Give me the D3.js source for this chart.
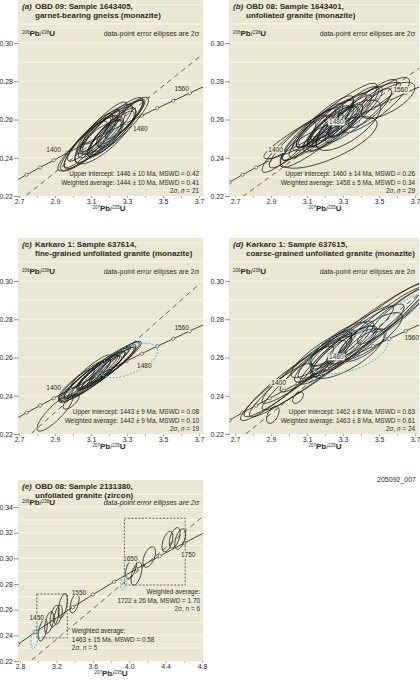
<!DOCTYPE html>
<html>
<head>
<meta charset="utf-8">
<script src="https://cdn.jsdelivr.net/npm/d3@7"></script>
<style>
  body { margin: 0; background: #fff; }
  text { font-family: "Liberation Sans", Arial, sans-serif; fill: #2a2a2a; }
</style>
</head>
<body>
<svg id="fig" width="420" height="680"></svg>
<script>
// ---- concordia reference points (ratio pairs read for each age) ----
const concAge20 = [1320, 1340, 1360, 1380, 1400, 1420, 1440, 1460, 1480, 1500, 1520, 1540, 1560, 1580, 1600];
const concX20 = [2.669, 2.742, 2.817, 2.893, 2.970, 3.049, 3.129, 3.212, 3.296, 3.381, 3.468, 3.557, 3.648, 3.740, 3.834];
const concY20 = [0.2272, 0.2311, 0.2349, 0.2387, 0.2426, 0.2464, 0.2503, 0.2542, 0.2581, 0.2620, 0.2659, 0.2698, 0.2738, 0.2778, 0.2817];
const concAge50 = [1300, 1350, 1400, 1450, 1500, 1550, 1600, 1650, 1700, 1750, 1800, 1850];
const concX50 = [2.598, 2.779, 2.970, 3.170, 3.381, 3.602, 3.834, 4.078, 4.335, 4.604, 4.887, 5.184];
const concY50 = [0.2234, 0.2330, 0.2426, 0.2522, 0.2620, 0.2718, 0.2817, 0.2917, 0.3017, 0.3119, 0.3221, 0.3324];
const ageLabAD = [1400, 1480, 1560];
const ageLabE = [1450, 1550, 1650, 1750];

// ---- axis ticks ----
const xTicksAD = [2.7, 2.9, 3.1, 3.3, 3.5, 3.7];
const xMinorAD = [2.8, 3.0, 3.2, 3.4, 3.6];
const yTicksAD = [0.22, 0.24, 0.26, 0.28, 0.30];
const gridAD = [0.23, 0.24, 0.25, 0.26, 0.27, 0.28, 0.29, 0.30, 0.31, 0.32];
const xTicksE = [2.8, 3.2, 3.6, 4.0, 4.4, 4.8];
const xMinorE = [3.0, 3.4, 3.8, 4.2, 4.6];
const yTicksE = [0.22, 0.24, 0.26, 0.28, 0.30, 0.32, 0.34];
const gridE = [0.23, 0.24, 0.25, 0.26, 0.27, 0.28, 0.29, 0.30, 0.31, 0.32, 0.33, 0.34, 0.35];

// ---- error ellipses: [207Pb/235U, 206Pb/238U, 2s x, 2s y, rho] ----
const ellA = [
  [3.155, 0.2515, 0.24, 0.0185, 0.92], [3.13, 0.2505, 0.20, 0.0175, 0.90], [3.20, 0.2545, 0.19, 0.0170, 0.90],
  [3.10, 0.2482, 0.15, 0.0140, 0.88], [3.25, 0.2562, 0.17, 0.0155, 0.90], [3.17, 0.2532, 0.12, 0.0115, 0.86],
  [3.14, 0.2517, 0.10, 0.0100, 0.85], [3.19, 0.2522, 0.09, 0.0090, 0.80], [3.15, 0.2542, 0.11, 0.0110, 0.88],
  [3.22, 0.2537, 0.13, 0.0122, 0.86], [3.09, 0.2497, 0.12, 0.0115, 0.88], [3.27, 0.2587, 0.12, 0.0115, 0.90],
  [3.16, 0.2557, 0.14, 0.0135, 0.90], [3.20, 0.2527, 0.07, 0.0070, 0.75], [3.12, 0.2487, 0.09, 0.0088, 0.82],
  [3.18, 0.2502, 0.10, 0.0097, 0.80], [3.24, 0.2547, 0.10, 0.0097, 0.84], [3.07, 0.2470, 0.12, 0.0122, 0.88],
  [3.29, 0.2602, 0.11, 0.0104, 0.90], [3.14, 0.2552, 0.08, 0.0080, 0.82], [3.18, 0.2517, 0.17, 0.0150, 0.80]
];
const avgA = [[3.20, 0.2515, 0.05, 0.0045, 0.6]];

const ellB = [
  [3.24, 0.2595, 0.38, 0.0200, 0.95], [3.22, 0.2570, 0.27, 0.0220, 0.92], [3.22, 0.2480, 0.27, 0.0135, 0.72],
  [3.55, 0.2700, 0.15, 0.0095, 0.70], [3.48, 0.2675, 0.19, 0.0145, 0.86], [3.40, 0.2645, 0.20, 0.0165, 0.90],
  [3.30, 0.2605, 0.20, 0.0168, 0.90], [3.18, 0.2550, 0.18, 0.0150, 0.90], [3.12, 0.2525, 0.16, 0.0138, 0.88],
  [3.22, 0.2565, 0.12, 0.0108, 0.86], [3.26, 0.2580, 0.10, 0.0090, 0.84], [3.20, 0.2545, 0.10, 0.0090, 0.84],
  [3.28, 0.2565, 0.13, 0.0114, 0.86], [3.15, 0.2555, 0.11, 0.0102, 0.88], [3.24, 0.2600, 0.12, 0.0108, 0.86],
  [3.34, 0.2620, 0.12, 0.0108, 0.88], [3.10, 0.2505, 0.14, 0.0120, 0.88], [3.05, 0.2485, 0.16, 0.0138, 0.90],
  [3.21, 0.2530, 0.08, 0.0075, 0.80], [3.30, 0.2585, 0.09, 0.0082, 0.80], [3.17, 0.2570, 0.13, 0.0114, 0.88],
  [3.37, 0.2640, 0.15, 0.0132, 0.88], [3.23, 0.2550, 0.15, 0.0120, 0.82], [3.14, 0.2535, 0.09, 0.0082, 0.84],
  [3.27, 0.2600, 0.16, 0.0138, 0.90], [3.00, 0.2455, 0.15, 0.0132, 0.90], [3.45, 0.2660, 0.12, 0.0102, 0.82],
  [3.19, 0.2580, 0.17, 0.0144, 0.88], [3.33, 0.2570, 0.18, 0.0132, 0.72]
];
const avgB = [[3.30, 0.2570, 0.10, 0.0070, 0.6]];

const ellC = [
  [3.15, 0.2525, 0.23, 0.0160, 0.95], [3.12, 0.2510, 0.19, 0.0142, 0.95], [3.18, 0.2540, 0.19, 0.0142, 0.95],
  [3.10, 0.2500, 0.15, 0.0117, 0.94], [3.20, 0.2552, 0.15, 0.0115, 0.94], [3.14, 0.2520, 0.12, 0.0092, 0.92],
  [3.16, 0.2532, 0.13, 0.0099, 0.92], [3.08, 0.2490, 0.13, 0.0101, 0.93], [3.22, 0.2562, 0.12, 0.0092, 0.93],
  [3.12, 0.2515, 0.09, 0.0071, 0.90], [3.18, 0.2537, 0.09, 0.0071, 0.90], [3.05, 0.2478, 0.13, 0.0105, 0.93],
  [3.25, 0.2578, 0.10, 0.0078, 0.92], [3.13, 0.2507, 0.16, 0.0126, 0.94], [3.17, 0.2547, 0.15, 0.0112, 0.94],
  [3.02, 0.2462, 0.10, 0.0080, 0.90], [2.90, 0.2310, 0.10, 0.0095, 0.85], [2.99, 0.2370, 0.045, 0.0040, 0.70],
  [3.10, 0.2528, 0.11, 0.0086, 0.92]
];
const avgC = [[3.31, 0.2585, 0.16, 0.0090, 0.55]];

const ellD = [
  [3.30, 0.2655, 0.45, 0.0330, 0.97], [3.42, 0.2730, 0.36, 0.0270, 0.96], [3.18, 0.2580, 0.40, 0.0290, 0.96],
  [3.52, 0.2790, 0.24, 0.0180, 0.94], [3.58, 0.2820, 0.20, 0.0150, 0.93], [3.25, 0.2630, 0.22, 0.0160, 0.90],
  [3.30, 0.2640, 0.18, 0.0125, 0.86], [3.20, 0.2600, 0.15, 0.0110, 0.86], [3.35, 0.2665, 0.14, 0.0100, 0.82],
  [3.28, 0.2670, 0.16, 0.0115, 0.82], [3.15, 0.2570, 0.20, 0.0150, 0.92], [3.10, 0.2545, 0.25, 0.0185, 0.94],
  [3.00, 0.2475, 0.25, 0.0185, 0.94], [3.45, 0.2710, 0.18, 0.0125, 0.82], [3.22, 0.2615, 0.10, 0.0075, 0.75],
  [3.33, 0.2620, 0.20, 0.0130, 0.75], [2.91, 0.2300, 0.035, 0.0045, 0.50], [3.05, 0.2390, 0.03, 0.0030, 0.50],
  [2.93, 0.2420, 0.20, 0.0150, 0.93], [3.38, 0.2690, 0.26, 0.0190, 0.92], [3.62, 0.2850, 0.16, 0.0120, 0.92],
  [3.24, 0.2650, 0.13, 0.0095, 0.82], [3.18, 0.2615, 0.17, 0.0120, 0.86], [3.42, 0.2665, 0.12, 0.0085, 0.76]
];
const avgD = [[3.33, 0.2630, 0.22, 0.0115, 0.45], [3.52, 0.2770, 0.24, 0.0170, 0.95]];

const ellE = [
  [3.05, 0.2440, 0.05, 0.0085, 0.5], [3.12, 0.2500, 0.05, 0.0085, 0.5], [3.18, 0.2550, 0.05, 0.0085, 0.5],
  [3.27, 0.2630, 0.05, 0.0095, 0.5], [3.22, 0.2560, 0.045, 0.0075, 0.5], [3.40, 0.2650, 0.05, 0.0075, 0.5],
  [4.02, 0.2920, 0.06, 0.0080, 0.5], [4.08, 0.2880, 0.06, 0.0090, 0.5], [4.22, 0.3010, 0.07, 0.0080, 0.5],
  [4.42, 0.3130, 0.06, 0.0080, 0.5], [4.50, 0.3160, 0.06, 0.0080, 0.5], [4.56, 0.3150, 0.06, 0.0080, 0.5]
];
const avgE = [[2.96, 0.2380, 0.04, 0.0085, 0.4], [3.94, 0.2820, 0.035, 0.0065, 0.4]];
// dashed boxes round the two age groups: [x0, x1, y0, y1]
const boxE = [[2.985, 3.32, 0.238, 0.2722], [3.948, 4.615, 0.2792, 0.3312]];

// ---- dashed reference lines (end points) ----
const dashA = [[2.743, 0.2205], [3.715, 0.2937]];
const dashB = [[2.743, 0.2197], [3.722, 0.2868]];
const dashC = [[2.770, 0.2204], [3.706, 0.2988]];
const dashD = [[2.760, 0.2200], [3.720, 0.2930]];
const dashE = [[2.930, 0.2208], [4.850, 0.3350]];

// ---- texts ----
const titleA = ["OBD 09: Sample 1643405,", "garnet-bearing gneiss (monazite)"];
const titleB = ["OBD 08: Sample 1643401,", "unfoliated granite (monazite)"];
const titleC = ["Karkaro 1: Sample 637614,", "fine-grained unfoliated granite (monazite)"];
const titleD = ["Karkaro 1: Sample 637615,", "coarse-grained unfoliated granite (monazite)"];
const titleE = ["OBD 08: Sample 2131380,", "unfoliated granite (zircon)"];
const statsA = ["Upper intercept: 1446 ± 10 Ma, MSWD = 0.42", "Weighted average: 1444 ± 10 Ma, MSWD = 0.41", "2σ, n = 21"];
const statsB = ["Upper intercept: 1460 ± 14 Ma, MSWD = 0.26", "Weighted average: 1458 ± 5 Ma, MSWD = 0.34", "2σ, n = 29"];
const statsC = ["Upper intercept: 1443 ± 9 Ma, MSWD = 0.08", "Weighted average: 1442 ± 9 Ma, MSWD = 0.10", "2σ, n = 19"];
const statsD = ["Upper intercept: 1462 ± 8 Ma, MSWD = 0.63", "Weighted average: 1463 ± 8 Ma, MSWD = 0.61", "2σ, n = 24"];
const statsE1 = ["Weighted average:", "1463 ± 15 Ma, MSWD = 0.58", "2σ, n = 5"];
const statsE2 = ["Weighted average:", "1722 ± 26 Ma, MSWD = 1.70", "2σ, n = 6"];

const BEIGE = "#eae8d3";
const svg = d3.select("#fig");

// layout of each panel (pixels)
const panels = [
  { key: "a", bx: [18, 203], by: [0, 196], xr: [19, 199], yr: [196, 43], xd: [2.7, 3.7], yd: [0.22, 0.30],
    title: titleA, ell: ellA, avg: avgA, dash: dashA, stats: statsA, xt: xTicksAD, xm: xMinorAD, yt: yTicksAD, grid: gridAD,
    cAge: concAge20, cX: concX20, cY: concY20, labs: ageLabAD, off: [[-14, -3], [14, 6], [-8, -4]] },
  { key: "b", bx: [229, 419], by: [0, 196], xr: [235, 415], yr: [196, 43], xd: [2.7, 3.7], yd: [0.22, 0.30],
    title: titleB, ell: ellB, avg: avgB, dash: dashB, stats: statsB, xt: xTicksAD, xm: xMinorAD, yt: yTicksAD, grid: gridAD,
    cAge: concAge20, cX: concX20, cY: concY20, labs: ageLabAD, off: [[-8, -3], [-6, -1], [-5, -3]], boxed: [1] },
  { key: "c", bx: [18, 203], by: [238, 434], xr: [19, 199], yr: [434, 281], xd: [2.7, 3.7], yd: [0.22, 0.30],
    title: titleC, ell: ellC, avg: avgC, dash: dashC, stats: statsC, xt: xTicksAD, xm: xMinorAD, yt: yTicksAD, grid: gridAD,
    cAge: concAge20, cX: concX20, cY: concY20, labs: ageLabAD, off: [[-14, -3], [18, 5], [-8, -3]] },
  { key: "d", bx: [229, 419], by: [238, 434], xr: [235, 415], yr: [434, 281], xd: [2.7, 3.7], yd: [0.22, 0.30],
    title: titleD, ell: ellD, avg: avgD, dash: dashD, stats: statsD, xt: xTicksAD, xm: xMinorAD, yt: yTicksAD, grid: gridAD,
    cAge: concAge20, cX: concX20, cY: concY20, labs: ageLabAD, off: [[-5, -8], [-6, -4], [6, 7]], boxed: [1] },
  { key: "e", bx: [18, 203], by: [480, 661], xr: [20, 202], yr: [661, 507], xd: [2.8, 4.8], yd: [0.22, 0.34],
    title: titleE, ell: ellE, avg: avgE, dash: dashE, stats: null, xt: xTicksE, xm: xMinorE, yt: yTicksE, grid: gridE,
    cAge: concAge50, cX: concX50, cY: concY50, labs: ageLabE, off: [[-17, -2], [-14, -2], [-6, -10], [4, 12]], italicNote: true }
];

function ellipseGeom(e, x, y) {
  const [cx, cy, sx, sy, rho] = e;
  const px = x(cx + sx) - x(cx);
  const py = y(cy) - y(cy + sy);
  // screen y runs downwards, so correlation flips sign
  const a = px * px, d = py * py, b = -rho * px * py;
  const m = (a + d) / 2, r = Math.sqrt(((a - d) / 2) ** 2 + b * b);
  return {
    cx: x(cx), cy: y(cy),
    rx: Math.sqrt(m + r), ry: Math.sqrt(Math.max(m - r, 0.05)),
    ang: 0.5 * Math.atan2(2 * b, a - d) * 180 / Math.PI
  };
}

function isoLabel(g, x, y, m1, e1, m2, e2, anchor) {
  const t = g.append("text").attr("x", x).attr("y", y).attr("text-anchor", anchor || "start");
  t.append("tspan").attr("font-size", 4.5).attr("dy", -2.5).text(m1);
  t.append("tspan").attr("font-size", 8).attr("font-weight", "bold").attr("dy", 2.5).text(e1);
  t.append("tspan").attr("font-size", 7).text("/");
  t.append("tspan").attr("font-size", 4.5).attr("dy", -2.5).text(m2);
  t.append("tspan").attr("font-size", 8).attr("font-weight", "bold").attr("dy", 2.5).text(e2);
  return t;
}

function statLine(t, s) {
  const m = s.match(/^(2σ, )n( = \d+)$/);
  if (m) {
    t.append("tspan").text(m[1]);
    t.append("tspan").attr("font-style", "italic").text("n");
    t.append("tspan").text(m[2]);
  } else t.text(s);
}

function statBlock(g, lines, x, y, anchor) {
  lines.forEach((s, i) => {
    const t = g.append("text").attr("x", x).attr("y", y + i * 8.6)
      .attr("text-anchor", anchor).attr("font-size", 6.4);
    statLine(t, s);
  });
}

panels.forEach(p => {
  const x = d3.scaleLinear().domain(p.xd).range(p.xr);
  const y = d3.scaleLinear().domain(p.yd).range(p.yr);
  const g = svg.append("g");
  const [bx0, bx1] = p.bx, [by0, by1] = p.by;

  g.append("rect").attr("x", bx0).attr("y", by0).attr("width", bx1 - bx0).attr("height", by1 - by0)
    .attr("fill", BEIGE);

  const clipId = "clip-" + p.key;
  svg.append("clipPath").attr("id", clipId).append("rect")
    .attr("x", bx0).attr("y", y(p.yt[p.yt.length - 1]) - 8).attr("width", bx1 - bx0)
    .attr("height", by1 - y(p.yt[p.yt.length - 1]) + 8);

  // grid lines
  g.append("g").selectAll("line").data(p.grid.filter(v => y(v) > by0 + 2)).join("line")
    .attr("x1", bx0).attr("x2", bx1).attr("y1", d => y(d)).attr("y2", d => y(d))
    .attr("stroke", "#f6f5ec").attr("stroke-width", 1.2);

  // axes
  const ya = g.append("g").attr("transform", `translate(${bx0 + 1},0)`)
    .call(d3.axisLeft(y).tickValues(p.yt).tickSize(5).tickPadding(1).tickFormat(d3.format(".2f")));
  ya.select(".domain").remove();
  ya.selectAll("line").attr("stroke", "#777").attr("stroke-width", 0.8);
  ya.selectAll("text").attr("font-size", 7).attr("fill", "#333").attr("font-family", "Liberation Sans, Arial, sans-serif");

  const xa = g.append("g").attr("transform", `translate(0,${by1})`)
    .call(d3.axisBottom(x).tickValues(p.xt).tickSize(2).tickPadding(1).tickFormat(d3.format(".1f")));
  xa.select(".domain").remove();
  xa.selectAll("line").attr("stroke", "#888").attr("stroke-width", 0.7);
  xa.selectAll("text").attr("font-size", 7).attr("fill", "#333").attr("font-family", "Liberation Sans, Arial, sans-serif");
  const xm = g.append("g").attr("transform", `translate(0,${by1})`)
    .call(d3.axisBottom(x).tickValues(p.xm).tickSize(2).tickFormat(""));
  xm.select(".domain").remove();
  xm.selectAll("line").attr("stroke", "#999").attr("stroke-width", 0.7);

  isoLabel(g, (x.range()[0] + x.range()[1]) / 2, by1 + 15, "207", "Pb", "235", "U", "middle");

  // titles
  g.append("text").attr("x", bx0 + 4).attr("y", by0 + 8.5).attr("font-size", 8)
    .attr("font-weight", "bold").attr("font-style", "italic").text(`(${p.key})`);
  p.title.forEach((s, i) => g.append("text").attr("x", bx0 + 17).attr("y", by0 + 8.5 + i * 9)
    .attr("font-size", 8).attr("font-weight", "bold").text(s));
  const ly = p.key === "e" ? by0 + 25 : by0 + 36;
  isoLabel(g, bx0 + 4, ly, "206", "Pb", "238", "U", "start");
  g.append("text").attr("x", bx1 - 4).attr("y", ly).attr("text-anchor", "end").attr("font-size", 7)
    .attr("font-style", p.italicNote ? "italic" : "normal").text("data-point error ellipses are 2σ");

  const plot = g.append("g").attr("clip-path", `url(#${clipId})`);

  // dashed reference line
  plot.append("path").attr("d", d3.line().x(d => x(d[0])).y(d => y(d[1]))(p.dash))
    .attr("fill", "none").attr("stroke", "#3a3a3a").attr("stroke-width", 0.8).attr("stroke-dasharray", "5,4");

  // concordia
  const conc = p.cAge.map((a, i) => ({ age: a, x: p.cX[i], y: p.cY[i] }));
  plot.append("path").attr("d", d3.line().x(d => x(d.x)).y(d => y(d.y)).curve(d3.curveCatmullRom)(conc))
    .attr("fill", "none").attr("stroke", "#333").attr("stroke-width", 0.9);
  plot.selectAll("circle.tick").data(conc).join("circle").attr("class", "tick")
    .attr("cx", d => x(d.x)).attr("cy", d => y(d.y)).attr("r", 1.7)
    .attr("fill", BEIGE).attr("stroke", "#444").attr("stroke-width", 0.6);

  // dashed group boxes (panel e)
  if (p.key === "e") {
    plot.selectAll("rect.box").data(boxE).join("rect").attr("class", "box")
      .attr("x", d => x(d[0])).attr("y", d => y(d[3]))
      .attr("width", d => x(d[1]) - x(d[0])).attr("height", d => y(d[2]) - y(d[3]))
      .attr("fill", "none").attr("stroke", "#555").attr("stroke-width", 0.9).attr("stroke-dasharray", "2,1.5");
  }

  // data-point ellipses
  plot.selectAll("ellipse.pt").data(p.ell.map(e => ellipseGeom(e, x, y))).join("ellipse").attr("class", "pt")
    .attr("cx", d => d.cx).attr("cy", d => d.cy).attr("rx", d => d.rx).attr("ry", d => d.ry)
    .attr("transform", d => `rotate(${d.ang},${d.cx},${d.cy})`)
    .attr("fill", "none").attr("stroke", "#1a1a1a").attr("stroke-width", 0.7);

  plot.selectAll("ellipse.avg").data(p.avg.map(e => ellipseGeom(e, x, y))).join("ellipse").attr("class", "avg")
    .attr("cx", d => d.cx).attr("cy", d => d.cy).attr("rx", d => d.rx).attr("ry", d => d.ry)
    .attr("transform", d => `rotate(${d.ang},${d.cx},${d.cy})`)
    .attr("fill", "none").attr("stroke", "#3bb3dc").attr("stroke-width", 0.9).attr("stroke-dasharray", "2,1.5");

  // age labels on concordia
  p.labs.forEach((a, i) => {
    const c = conc.find(d => d.age === a);
    const tx = x(c.x) + p.off[i][0], ty = y(c.y) + p.off[i][1];
    const t = g.append("text").attr("x", tx).attr("y", ty + 2.3).attr("text-anchor", "middle")
      .attr("font-size", 6.5).text(a);
    const bb = t.node().getBBox();
    const boxed = p.boxed && p.boxed.includes(i);
    g.insert("rect", () => t.node()).attr("x", bb.x - 1).attr("y", bb.y).attr("width", bb.width + 2)
      .attr("height", bb.height).attr("fill", boxed ? "#f6f5ee" : BEIGE)
      .attr("stroke", boxed ? "#777" : "none").attr("stroke-width", 0.4);
  });

  // statistics
  if (p.stats) statBlock(g, p.stats, bx1 - 4, by1 - 20, "end");
  else {
    statBlock(g, statsE2, bx1 - 3, 594, "end");
    statBlock(g, statsE1, x(3.37), 633, "start");
  }
});

svg.append("text").attr("x", 416).attr("y", 482).attr("text-anchor", "end").attr("font-size", 7)
  .text("205092_007");
</script>
</body>
</html>
